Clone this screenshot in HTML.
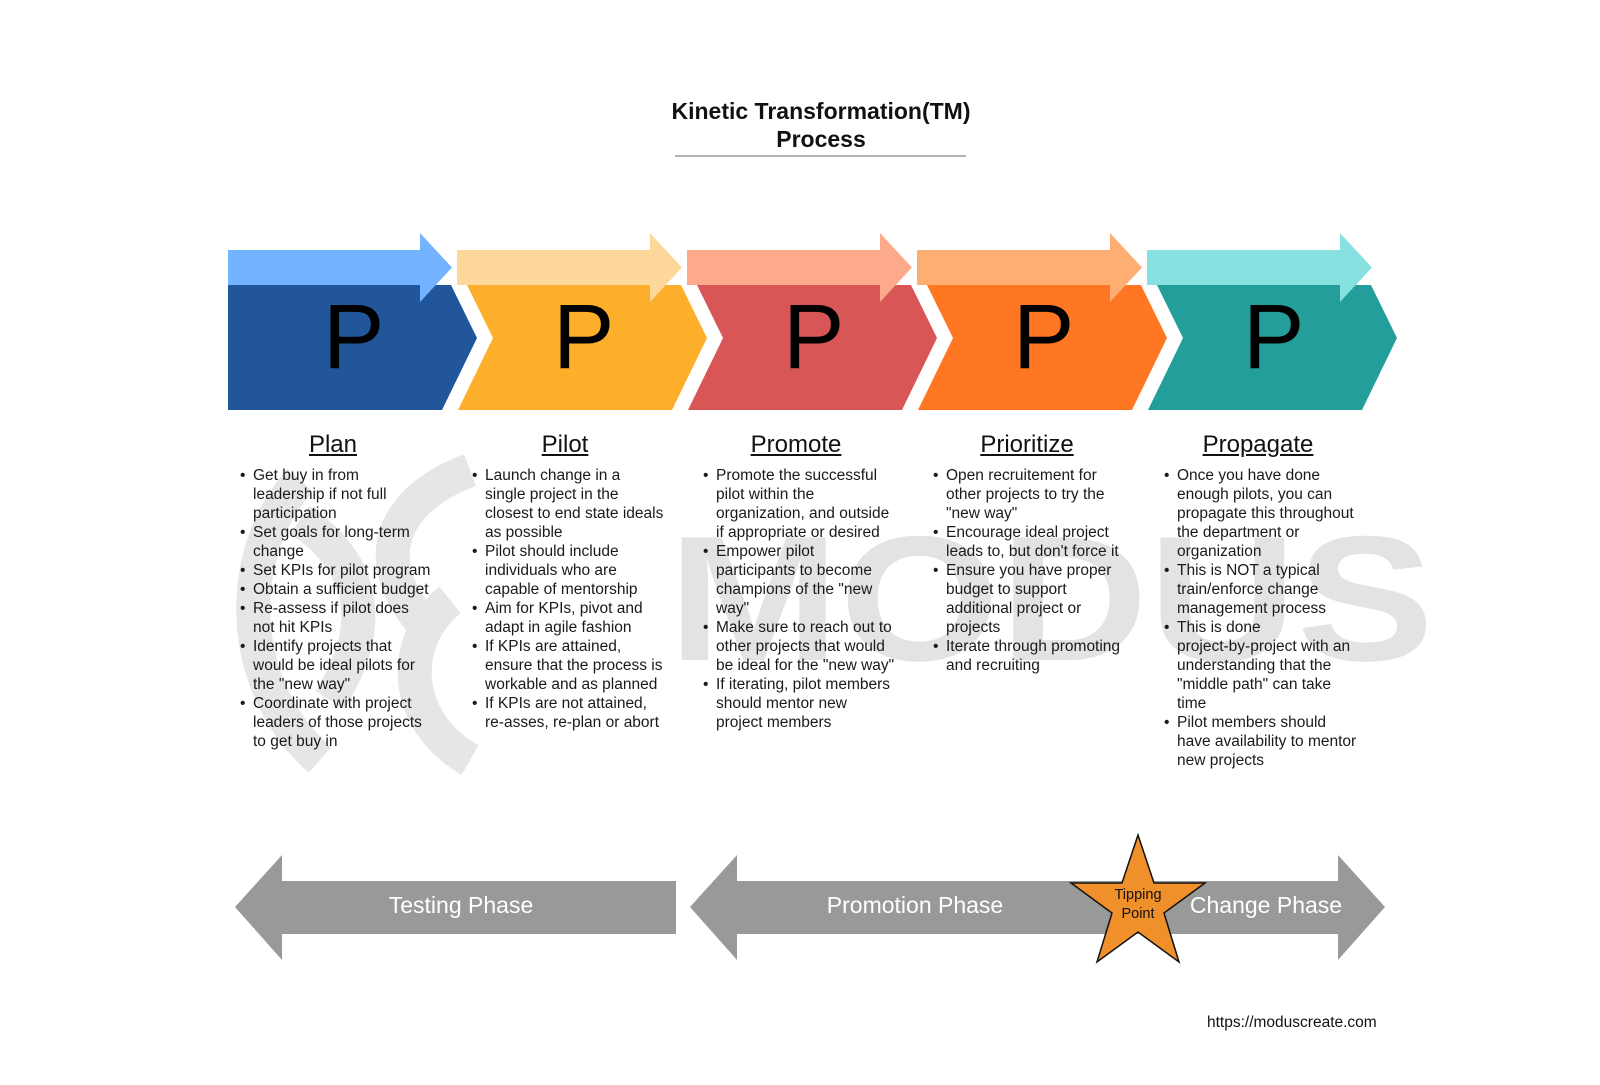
<!DOCTYPE html>
<html><head><meta charset="utf-8"><style>
body{margin:0;background:#fff;}
#c{position:relative;width:1600px;height:1085px;overflow:hidden;font-family:"Liberation Sans",Arial,sans-serif;}
svg{position:absolute;left:0;top:0;}
.h{position:absolute;top:431px;width:230px;text-align:center;font-size:24px;line-height:28px;text-decoration:underline;color:#111;}
.col{position:absolute;top:466px;font-size:15.5px;line-height:19px;color:#1a1a1a;white-space:nowrap;}
.b{position:relative;padding-left:0;}
.b:before{content:"•";position:absolute;left:-13px;}
</style></head><body><div id="c">
<svg width="1600" height="1085" viewBox="0 0 1600 1085">
<!-- watermark -->
<g fill="none" stroke="#e6e6e6" stroke-width="34">
<path d="M300 480 C230 560 240 690 320 760"/>
<path d="M470 470 C390 500 370 560 420 620"/>
<path d="M300 520 C360 560 380 620 330 700"/>
<path d="M470 760 C400 720 400 640 450 600"/>
</g>
<text x="668" y="660" font-family="Liberation Sans" font-weight="bold" font-size="178" fill="#e3e3e3" textLength="766" lengthAdjust="spacingAndGlyphs">MODUS</text>
<!-- chevrons -->
<g>
<polygon points="228,285 451,285 477,338 442,410 228,410" fill="#22569a"/>
<polygon points="467,285 681,285 707,338 672,410 458,410 493,338" fill="#fdae2b"/>
<polygon points="697,285 911,285 937,338 902,410 688,410 723,338" fill="#d95656"/>
<polygon points="927,285 1141,285 1167,338 1132,410 918,410 953,338" fill="#ff7722"/>
<polygon points="1157,285 1371,285 1397,338 1362,410 1148,410 1183,338" fill="#239e9b"/>
<polygon points="228,250 420,250 420,233 452,267.5 420,302 420,285 228,285" fill="#74b3ff"/>
<polygon points="457,250 650,250 650,233 682,267.5 650,302 650,285 457,285" fill="#fed89b"/>
<polygon points="687,250 880,250 880,233 912,267.5 880,302 880,285 687,285" fill="#fda98c"/>
<polygon points="917,250 1110,250 1110,233 1142,267.5 1110,302 1110,285 917,285" fill="#fdaf73"/>
<polygon points="1147,250 1340,250 1340,233 1372,267.5 1340,302 1340,285 1147,285" fill="#87e1e0"/>
</g>
<g font-family="Liberation Sans" font-size="92" fill="#000">
<text x="323" y="368">P</text><text x="553" y="368">P</text><text x="783" y="368">P</text><text x="1013" y="368">P</text><text x="1243" y="368">P</text>
</g>
<!-- title -->
<g font-family="Liberation Sans" font-weight="bold" font-size="23" fill="#111" text-anchor="middle">
<text x="821" y="119">Kinetic Transformation(TM)</text>
<text x="821" y="147">Process</text>
</g>
<line x1="675" y1="156" x2="966" y2="156" stroke="#999" stroke-width="1.5"/>
<!-- bottom arrows -->
<polygon points="235,907 282,855 282,881 676,881 676,934 282,934 282,960" fill="#999"/>
<polygon points="690,907 737,855 737,881 1140,881 1140,934 737,934 737,960" fill="#999"/>
<polygon points="1110,881 1338,881 1338,855 1385,907 1338,960 1338,934 1110,934" fill="#999"/>
<g font-family="Liberation Sans" font-size="23" fill="#fff" text-anchor="middle">
<text x="461" y="913">Testing Phase</text>
<text x="915" y="913">Promotion Phase</text>
<text x="1266" y="913">Change Phase</text>
</g>
<polygon points="1138,835 1154,883 1205,883 1164,913 1179,962 1138,932 1097,962 1112,913 1071,883 1122,883" fill="#f0902a" stroke="#111" stroke-width="1.5"/>
<g font-family="Liberation Sans" font-size="14.5" fill="#111" text-anchor="middle">
<text x="1138" y="899">Tipping</text><text x="1138" y="918">Point</text>
</g>
<text x="1207" y="1027" font-family="Liberation Sans" font-size="15.5" fill="#111">https://moduscreate.com</text>
</svg>
<div class="h" style="left:218px">Plan</div>
<div class="h" style="left:450px">Pilot</div>
<div class="h" style="left:681px">Promote</div>
<div class="h" style="left:912px">Prioritize</div>
<div class="h" style="left:1143px">Propagate</div>
<div class="col" style="left:253px">
<div class="b">Get buy in from<br>leadership if not full<br>participation</div>
<div class="b">Set goals for long-term<br>change</div>
<div class="b">Set KPIs for pilot program</div>
<div class="b">Obtain a sufficient budget</div>
<div class="b">Re-assess if pilot does<br>not hit KPIs</div>
<div class="b">Identify projects that<br>would be ideal pilots for<br>the "new way"</div>
<div class="b">Coordinate with project<br>leaders of those projects<br>to get buy in</div>
</div>
<div class="col" style="left:485px">
<div class="b">Launch change in a<br>single project in the<br>closest to end state ideals<br>as possible</div>
<div class="b">Pilot should include<br>individuals who are<br>capable of mentorship</div>
<div class="b">Aim for KPIs, pivot and<br>adapt in agile fashion</div>
<div class="b">If KPIs are attained,<br>ensure that the process is<br>workable and as planned</div>
<div class="b">If KPIs are not attained,<br>re-asses, re-plan or abort</div>
</div>
<div class="col" style="left:716px">
<div class="b">Promote the successful<br>pilot within the<br>organization, and outside<br>if appropriate or desired</div>
<div class="b">Empower pilot<br>participants to become<br>champions of the "new<br>way"</div>
<div class="b">Make sure to reach out to<br>other projects that would<br>be ideal for the "new way"</div>
<div class="b">If iterating, pilot members<br>should mentor new<br>project members</div>
</div>
<div class="col" style="left:946px">
<div class="b">Open recruitement for<br>other projects to try the<br>"new way"</div>
<div class="b">Encourage ideal project<br>leads to, but don't force it</div>
<div class="b">Ensure you have proper<br>budget to support<br>additional project or<br>projects</div>
<div class="b">Iterate through promoting<br>and recruiting</div>
</div>
<div class="col" style="left:1177px">
<div class="b">Once you have done<br>enough pilots, you can<br>propagate this throughout<br>the department or<br>organization</div>
<div class="b">This is NOT a typical<br>train/enforce change<br>management process</div>
<div class="b">This is done<br>project-by-project with an<br>understanding that the<br>"middle path" can take<br>time</div>
<div class="b">Pilot members should<br>have availability to mentor<br>new projects</div>
</div>
</div></body></html>
